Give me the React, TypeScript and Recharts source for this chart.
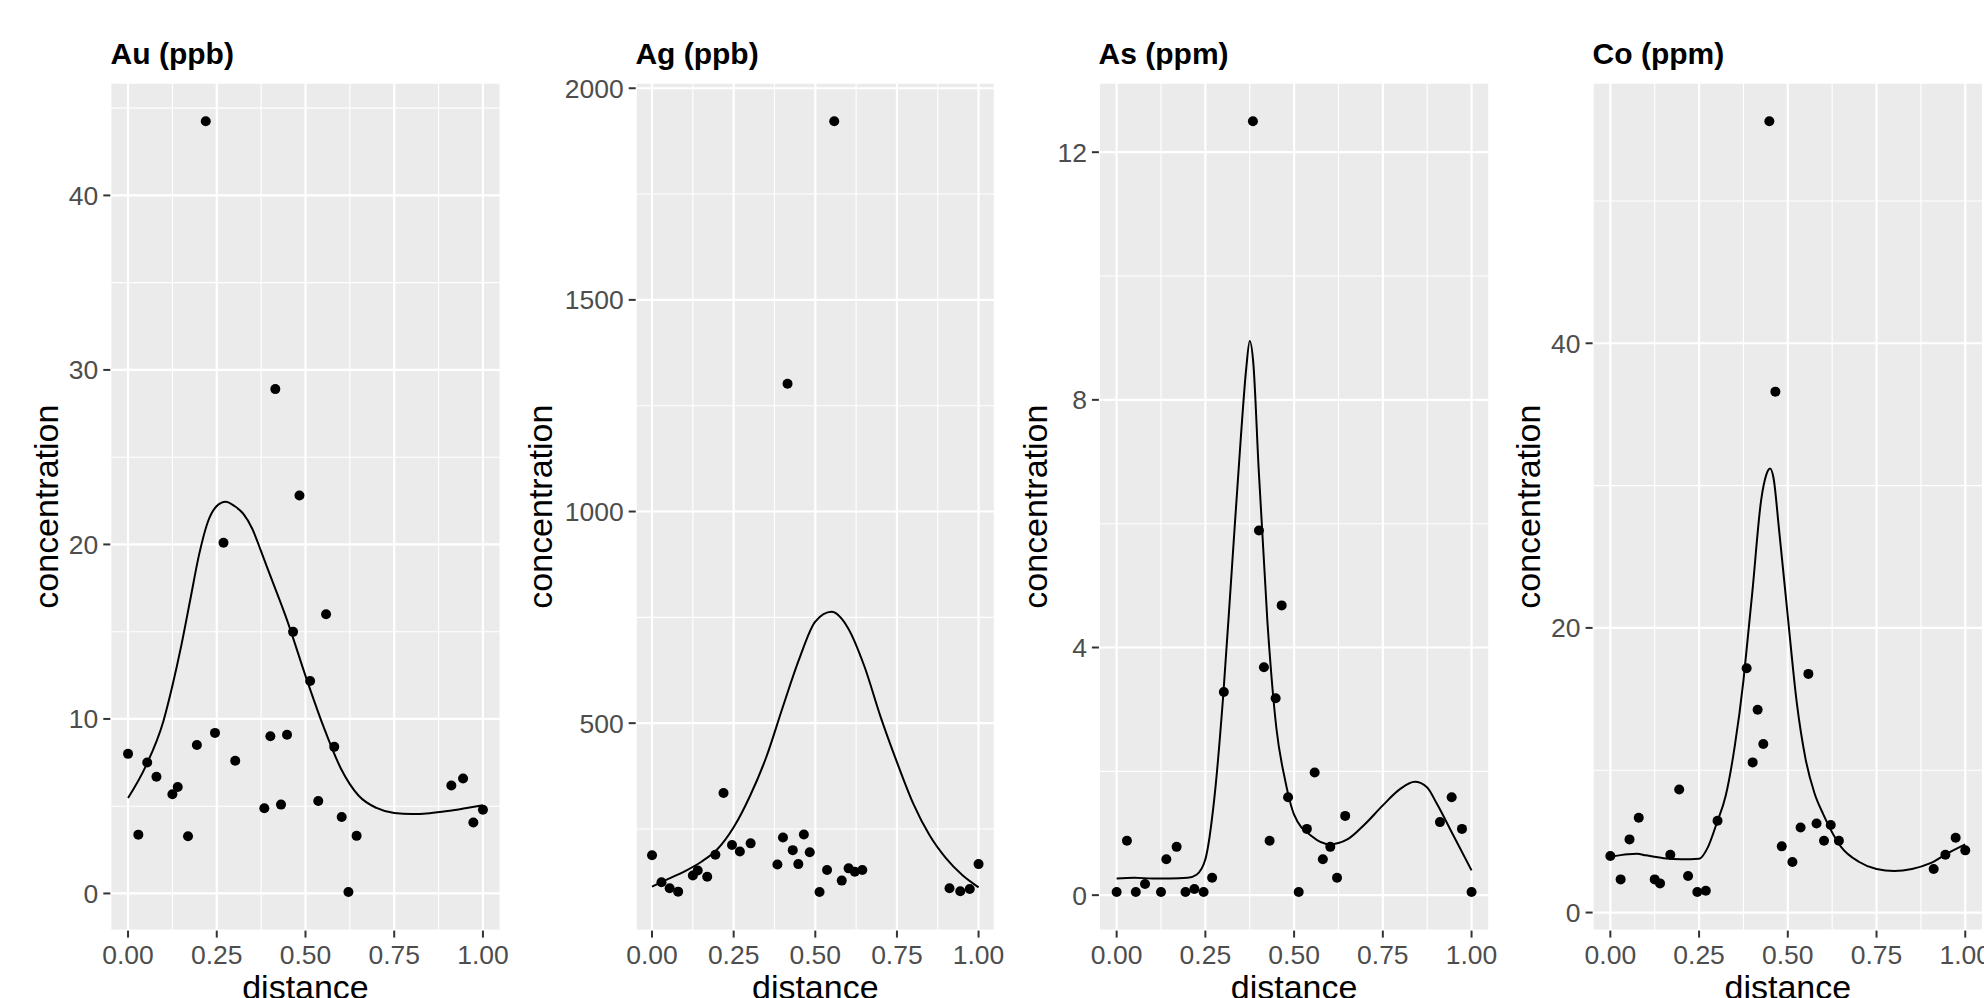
import React from "react"
import {
  ComposedChart,
  Scatter,
  Line,
  XAxis,
  YAxis,
  CartesianGrid,
  ReferenceLine,
  Label,
} from "recharts"

// sample positions along the traverse (shared by every element)
const distance = [
  0, 0.029, 0.054, 0.08, 0.125, 0.14, 0.169, 0.194, 0.219, 0.245, 0.269, 0.302,
  0.384, 0.401, 0.415, 0.431, 0.448, 0.465, 0.483, 0.513, 0.536, 0.558, 0.581,
  0.602, 0.621, 0.644, 0.911, 0.944, 0.973, 1.0,
]

const auPpb = [
  8.0, 3.37, 7.5, 6.69, 5.68, 6.1, 3.28, 8.51, 44.25, 9.2, 20.1, 7.6, 4.88, 9.01,
  28.9, 5.09, 9.09, 14.99, 22.8, 12.17, 5.3, 16.0, 8.4, 4.38, 0.08, 3.3, 6.19,
  6.59, 4.07, 4.8,
]
const agPpb = [
  188, 124, 110, 102, 140, 152, 137, 189, 335, 212, 197, 216, 166, 230, 1302, 200,
  167, 237, 195, 101, 153, 1922, 128, 157, 149, 153, 110, 103, 108, 167,
]
const asPpm = [
  0.05, 0.88, 0.05, 0.18, 0.05, 0.58, 0.78, 0.05, 0.1, 0.05, 0.28, 3.28, 12.5,
  5.89, 3.68, 0.88, 3.18, 4.68, 1.58, 0.05, 1.07, 1.98, 0.58, 0.78, 0.28, 1.28,
  1.18, 1.58, 1.07, 0.05,
]
const coPpm = [
  3.97, 2.33, 5.14, 6.66, 2.33, 2.05, 4.06, 8.64, 2.57, 1.44, 1.53, 6.45, 17.17,
  10.55, 14.25, 11.84, 55.6, 36.6, 4.65, 3.55, 5.98, 16.77, 6.26, 5.04, 6.15,
  5.04, 3.06, 4.06, 5.26, 4.37,
]

// smoothed curves
const auSmoothX = [0, 0.05, 0.1, 0.125, 0.15, 0.175, 0.2, 0.225, 0.25, 0.275, 0.3, 0.325, 0.35, 0.375, 0.4, 0.45, 0.5, 0.55, 0.6, 0.65, 0.7, 0.75, 0.8, 0.85, 0.9, 0.95, 1]
const auSmooth = [5.47, 7.3, 9.9, 11.9, 14.2, 16.8, 19.4, 21.3, 22.2, 22.45, 22.2, 21.75, 20.9, 19.6, 18.25, 15.55, 12.47, 9.6, 7.15, 5.6, 4.9, 4.61, 4.55, 4.6, 4.72, 4.88, 5.05]

const agSmoothX = [0, 0.05, 0.1, 0.15, 0.2, 0.25, 0.3, 0.35, 0.4, 0.45, 0.5, 0.55, 0.6, 0.65, 0.7, 0.75, 0.8, 0.85, 0.9, 0.95, 1]
const agSmooth = [114, 132, 150, 172, 202, 254, 328, 420, 537, 650, 740, 763, 725, 635, 515, 408, 310, 235, 181, 141, 112]

const asSmoothX = [0, 0.05, 0.1, 0.15, 0.2, 0.225, 0.25, 0.275, 0.3, 0.325, 0.35, 0.365, 0.375, 0.385, 0.4, 0.425, 0.45, 0.475, 0.5, 0.55, 0.6, 0.65, 0.7, 0.75, 0.8, 0.84, 0.875, 0.9, 0.95, 1]
const asSmooth = [0.27, 0.28, 0.27, 0.27, 0.28, 0.33, 0.58, 1.55, 3.2, 5.3, 7.4, 8.5, 8.95, 8.6, 6.9, 4.4, 2.7, 1.85, 1.3, 0.95, 0.82, 0.9, 1.15, 1.45, 1.72, 1.83, 1.74, 1.5, 0.95, 0.4]

const coSmoothX = [0, 0.05, 0.075, 0.1, 0.15, 0.2, 0.25, 0.275, 0.3, 0.325, 0.35, 0.375, 0.39, 0.4, 0.425, 0.44, 0.45, 0.46, 0.475, 0.5, 0.525, 0.55, 0.575, 0.6, 0.65, 0.7, 0.75, 0.8, 0.85, 0.9, 0.95, 1]
const coSmooth = [3.92, 4.1, 4.13, 4.02, 3.82, 3.74, 3.78, 4.6, 6.3, 8.2, 11.6, 16.3, 20.0, 22.5, 29.0, 30.8, 31.2, 30.5, 27.0, 20.8, 14.8, 10.8, 8.4, 6.9, 4.62, 3.57, 3.06, 2.92, 3.06, 3.45, 4.16, 4.79]

const xTicks = [0, 0.25, 0.5, 0.75, 1]
const xMinor = [0.125, 0.375, 0.625, 0.875]

const FONT = '"Liberation Sans", Arial, Helvetica, sans-serif'
const PLOT_TOP = 82.7
const PLOT_BOTTOM = 930.6
const CHART_H = 1000

const Dot = (p: any) => <circle cx={p.cx} cy={p.cy} r={5} fill="#000" />

function Panel({ title, values, smoothX, smoothY, yTicks, yMinor, labelX, plotLeft, plotRight }: any) {
  const points = distance.map((d, i) => ({ x: d, y: values[i] }))
  const smooth = smoothX.map((d: number, i: number) => ({ x: d, y: smoothY[i] }))
  const all = values.concat(smoothY)
  const lo = Math.min(...all)
  const hi = Math.max(...all)
  const pad = (hi - lo) * 0.05
  const chartLeft = labelX - 30
  const rightRoom = 40
  const width = plotRight + rightRoom - chartLeft

  return (
    <>
      <div
        style={{
          position: "absolute",
          left: plotLeft,
          top: 39,
          fontFamily: FONT,
          fontWeight: "bold",
          fontSize: 30,
          lineHeight: 1,
          whiteSpace: "nowrap",
          color: "#000",
        }}
      >
        {title}
      </div>
      <div style={{ position: "absolute", left: chartLeft, top: 0 }}>
        <ComposedChart
          width={width}
          height={CHART_H}
          margin={{ top: PLOT_TOP, right: rightRoom, bottom: 0, left: 0 }}
        >
          <CartesianGrid fill="#EBEBEB" fillOpacity={1} stroke="#FFFFFF" strokeWidth={2.2} />
          {xMinor.map((v) => (
            <ReferenceLine key={"mx" + v} x={v} stroke="#FFFFFF" strokeWidth={1.1} />
          ))}
          {yMinor.map((v: number) => (
            <ReferenceLine key={"my" + v} y={v} stroke="#FFFFFF" strokeWidth={1.1} />
          ))}
          <XAxis
            dataKey="x"
            type="number"
            domain={[-0.05, 1.05]}
            allowDataOverflow
            ticks={xTicks}
            interval={0}
            tickFormatter={(v: number) => v.toFixed(2)}
            axisLine={false}
            tickLine={{ stroke: "#333333", strokeWidth: 2 }}
            tickSize={7}
            tickMargin={8}
            tick={{ fill: "#4D4D4D", fontSize: 26.5 }}
            height={CHART_H - PLOT_BOTTOM}
          >
            <Label value="distance" position="insideBottom" offset={1} fill="#000" fontSize={34} />
          </XAxis>
          <YAxis
            dataKey="y"
            type="number"
            domain={[lo - pad, hi + pad]}
            allowDataOverflow
            ticks={yTicks}
            interval={0}
            axisLine={false}
            tickLine={{ stroke: "#333333", strokeWidth: 2 }}
            tickSize={7}
            tickMargin={5}
            tick={{ fill: "#4D4D4D", fontSize: 26.5 }}
            width={plotLeft - chartLeft}
          >
            <Label
              value="concentration"
              angle={-90}
              position="insideLeft"
              offset={18}
              fill="#000"
              fontSize={34}
              style={{ textAnchor: "middle" }}
            />
          </YAxis>
          <Scatter data={points} shape={Dot} isAnimationActive={false} />
          <Line
            data={smooth}
            dataKey="y"
            type="monotone"
            stroke="#000"
            strokeWidth={2}
            dot={false}
            activeDot={false}
            isAnimationActive={false}
          />
        </ComposedChart>
      </div>
    </>
  )
}

export default function App() {
  return (
    <div
      style={{
        position: "absolute",
        left: 0,
        top: 0,
        width: 1984,
        height: 998,
        overflow: "hidden",
        background: "#fff",
        fontFamily: FONT,
      }}
    >
      <Panel
        title="Au (ppb)"
        values={auPpb}
        smoothX={auSmoothX}
        smoothY={auSmooth}
        yTicks={[0, 10, 20, 30, 40]}
        yMinor={[5, 15, 25, 35, 45]}
        labelX={58.3}
        plotLeft={110.6}
        plotRight={501}
      />
      <Panel
        title="Ag (ppb)"
        values={agPpb}
        smoothX={agSmoothX}
        smoothY={agSmooth}
        yTicks={[500, 1000, 1500, 2000]}
        yMinor={[250, 750, 1250, 1750]}
        labelX={551.7}
        plotLeft={635.4}
        plotRight={994.6}
      />
      <Panel
        title="As (ppm)"
        values={asPpm}
        smoothX={asSmoothX}
        smoothY={asSmooth}
        yTicks={[0, 4, 8, 12]}
        yMinor={[2, 6, 10]}
        labelX={1046.7}
        plotLeft={1098.6}
        plotRight={1489}
      />
      <Panel
        title="Co (ppm)"
        values={coPpm}
        smoothX={coSmoothX}
        smoothY={coSmooth}
        yTicks={[0, 20, 40]}
        yMinor={[10, 30, 50]}
        labelX={1540}
        plotLeft={1592.6}
        plotRight={1983}
      />
    </div>
  )
}
